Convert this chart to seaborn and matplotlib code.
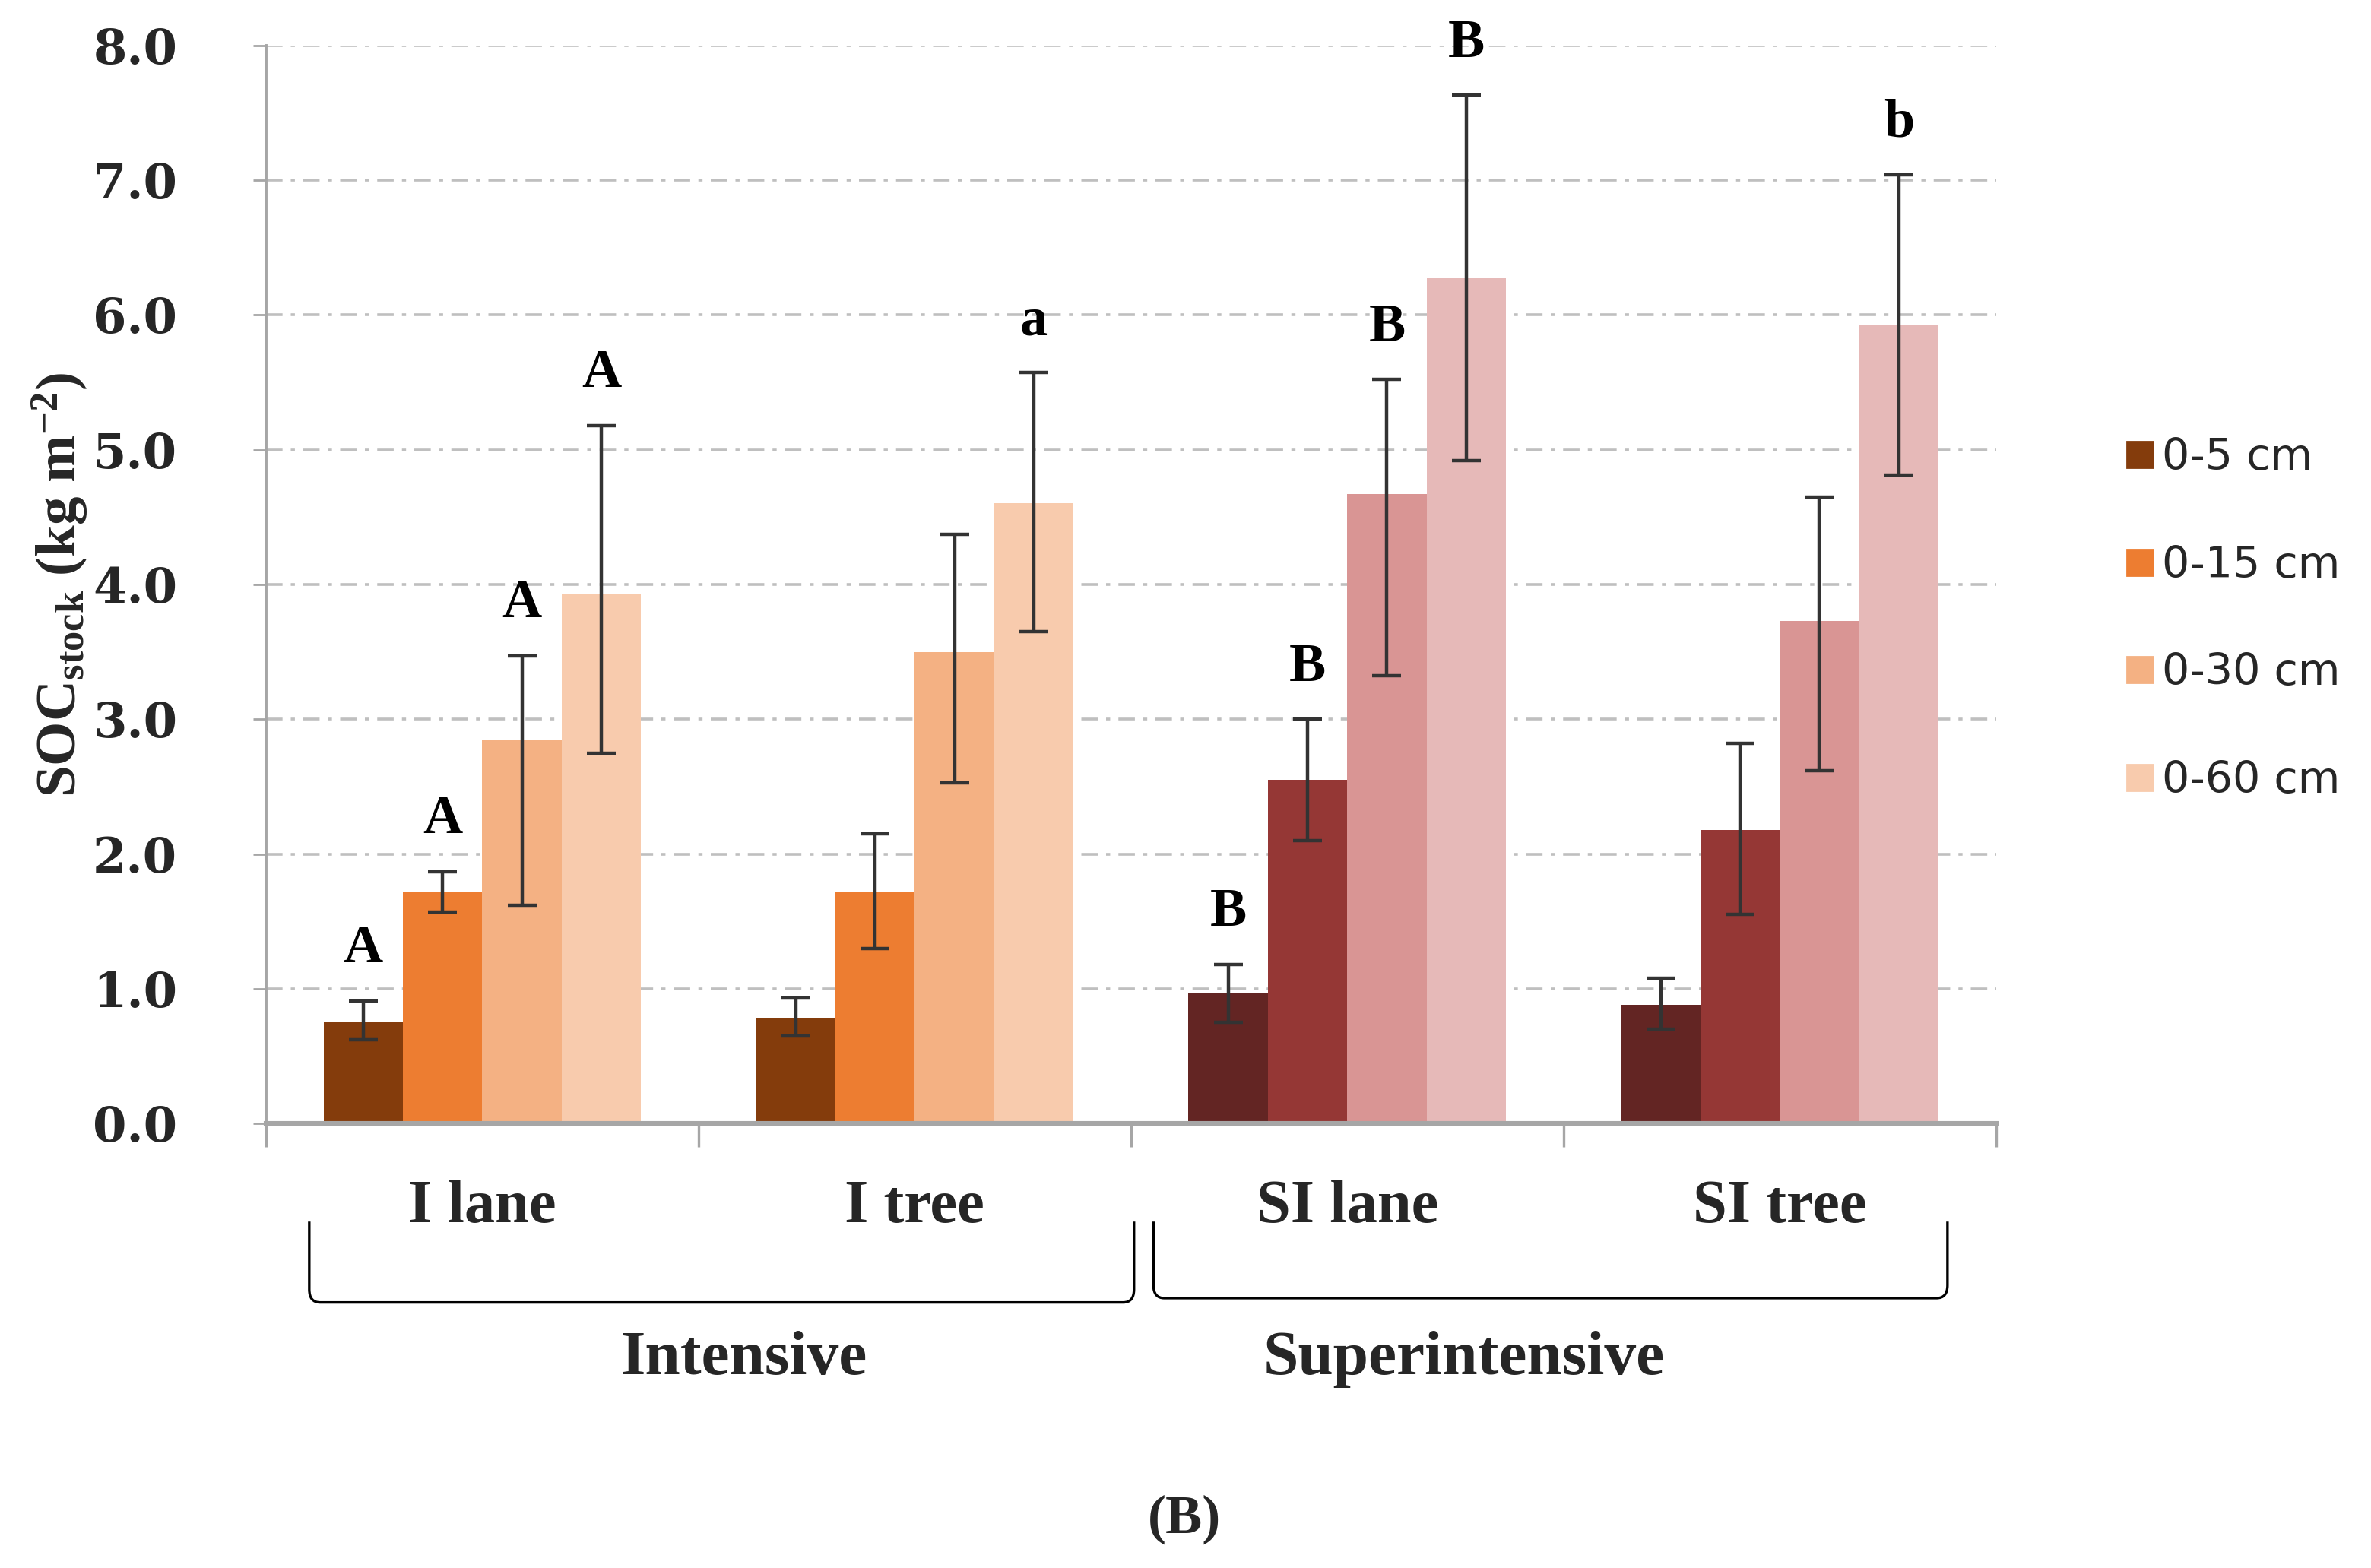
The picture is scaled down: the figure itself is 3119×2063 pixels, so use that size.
import numpy as np
import pandas as pd
import matplotlib
matplotlib.use("Agg")
import matplotlib.pyplot as plt
import matplotlib.transforms as mtransforms
from matplotlib.path import Path
from matplotlib.patches import PathPatch
from matplotlib.lines import Line2D
import seaborn as sns

# ---------------- data ----------------
categories = ["I lane", "I tree", "SI lane", "SI tree"]
management = ["Intensive", "Intensive", "Superintensive", "Superintensive"]
depths = ["0-5 cm", "0-15 cm", "0-30 cm", "0-60 cm"]

i_lane_mean = [0.75, 1.72, 2.85, 3.93]
i_lane_low = [0.62, 1.57, 1.62, 2.75]
i_lane_high = [0.91, 1.87, 3.47, 5.18]

i_tree_mean = [0.78, 1.72, 3.50, 4.60]
i_tree_low = [0.65, 1.30, 2.53, 3.65]
i_tree_high = [0.93, 2.15, 4.37, 5.57]

si_lane_mean = [0.97, 2.55, 4.67, 6.27]
si_lane_low = [0.75, 2.10, 3.32, 4.92]
si_lane_high = [1.18, 3.00, 5.52, 7.63]

si_tree_mean = [0.88, 2.18, 3.73, 5.93]
si_tree_low = [0.70, 1.55, 2.62, 4.81]
si_tree_high = [1.08, 2.82, 4.65, 7.04]

i_lane_letters = ["A", "A", "A", "A"]
i_tree_letters = ["", "", "", "a"]
si_lane_letters = ["B", "B", "B", "B"]
si_tree_letters = ["", "", "", "b"]

y_ticks = [0.0, 1.0, 2.0, 3.0, 4.0, 5.0, 6.0, 7.0, 8.0]

palette_intensive = ["#843C0C", "#ED7D31", "#F4B183", "#F8CBAD"]
palette_super = ["#632523", "#953735", "#D99594", "#E6B9B8"]

means = [i_lane_mean, i_tree_mean, si_lane_mean, si_tree_mean]
lows = [i_lane_low, i_tree_low, si_lane_low, si_tree_low]
highs = [i_lane_high, i_tree_high, si_lane_high, si_tree_high]
letters = [i_lane_letters, i_tree_letters, si_lane_letters, si_tree_letters]

rows = []
for ci, cat in enumerate(categories):
    for di, dep in enumerate(depths):
        rows.append(dict(cat=cat, mgmt=management[ci], depth=dep,
                         soc=means[ci][di], lo=lows[ci][di], hi=highs[ci][di],
                         letter=letters[ci][di], ci=ci, di=di))
df = pd.DataFrame(rows)

# ---------------- style ----------------
sns.set_style("white")
plt.rcParams["font.family"] = ["Liberation Serif", "DejaVu Serif"]
plt.rcParams["mathtext.fontset"] = "custom"
plt.rcParams["mathtext.rm"] = "Liberation Serif:bold"
plt.rcParams["mathtext.it"] = "Liberation Serif:bold"
plt.rcParams["mathtext.bf"] = "Liberation Serif:bold"

fig = plt.figure(figsize=(15.595, 10.315), dpi=200)
ax = fig.add_axes([0.1122, 0.2835, 0.7296, 0.6876])

sns.barplot(data=df[df.mgmt == "Intensive"], x="cat", y="soc", hue="depth",
            order=categories, hue_order=depths, palette=palette_intensive,
            width=0.734, errorbar=None, legend=False, saturation=1, ax=ax)
sns.barplot(data=df[df.mgmt == "Superintensive"], x="cat", y="soc", hue="depth",
            order=categories, hue_order=depths, palette=palette_super,
            width=0.734, errorbar=None, legend=False, saturation=1, ax=ax)

for p in ax.patches:
    p.set_edgecolor("none")
    p.set_linewidth(0)

bars = sorted([p for p in ax.patches if p.get_height() > 0], key=lambda p: p.get_x())
dfs = df.sort_values(["ci", "di"]).reset_index(drop=True)
xc = [p.get_x() + p.get_width() / 2 for p in bars]

ax.errorbar(xc, dfs["soc"], yerr=[dfs["soc"] - dfs["lo"], dfs["hi"] - dfs["soc"]],
            fmt="none", ecolor="#333333", elinewidth=1.6, capsize=7, capthick=1.6, zorder=5)

for x, (_, r) in zip(xc, dfs.iterrows()):
    if r["letter"]:
        ax.text(x, r["hi"] + 0.2, r["letter"], ha="center", va="bottom",
                fontsize=26, fontweight="bold", family="Liberation Serif", color="black",
                zorder=6, clip_on=False)

# axes
ax.set_ylim(0, 8)
ax.set_xlim(-0.5, 3.5)
ax.set_yticks(y_ticks)
ax.set_yticklabels([f"{v:.1f}" for v in y_ticks], fontsize=23, fontweight="bold",
                   family="DejaVu Serif", color="#262626")
ax.yaxis.grid(True, color="#BFBFBF", linestyle=(0, (6, 3, 1.5, 3)), linewidth=1.3)
ax.xaxis.grid(False)
ax.set_axisbelow(True)
ax.tick_params(axis="y", length=6, width=1.0, color="#A6A6A6", pad=36, left=True)

ax.set_xticks([0, 1, 2, 3])
ax.set_xticklabels([])
ax.set_xticks([-0.5, 0.5, 1.5, 2.5, 3.5], minor=True)
ax.tick_params(axis="x", which="major", length=0)
ax.tick_params(axis="x", which="minor", length=11, width=1.2, color="#A6A6A6", bottom=True)

for s in ["top", "right"]:
    ax.spines[s].set_visible(False)
ax.spines["left"].set_color("#A6A6A6")
ax.spines["left"].set_linewidth(1.4)
ax.spines["bottom"].set_color("#A6A6A6")
ax.spines["bottom"].set_linewidth(2.2)

ax.set_xlabel("")
ax.set_ylabel(r"SOC$_{\mathrm{stock}}$ (kg m$^{\mathrm{-2}}$)", fontsize=27,
              fontweight="bold", family="Liberation Serif", color="#262626")
ax.yaxis.set_label_coords(-0.102, 0.5)

trans = mtransforms.blended_transform_factory(ax.transData, ax.transAxes)
for i, cat in enumerate(categories):
    ax.text(i, -0.078, cat, transform=trans, ha="center", va="center",
            fontsize=29, fontweight="bold", family="Liberation Serif", clip_on=False)

# brackets
def bracket(x0, x1, top, bot, r=0.025, rv=0.012):
    verts = [(x0, top), (x0, bot + rv), (x0, bot), (x0 + r, bot),
             (x1 - r, bot), (x1, bot), (x1, bot + rv), (x1, top)]
    codes = [Path.MOVETO, Path.LINETO, Path.CURVE3, Path.CURVE3,
             Path.LINETO, Path.CURVE3, Path.CURVE3, Path.LINETO]
    pp = PathPatch(Path(verts, codes), transform=trans, fill=False,
                   edgecolor="black", linewidth=1.2, clip_on=False)
    ax.add_patch(pp)

bracket(-0.40, 1.507, -0.091, -0.166)
bracket(1.552, 3.388, -0.091, -0.162)

group_names = ["Intensive", "Superintensive"]
group_x = [0.605, 2.27]
for gx, gn in zip(group_x, group_names):
    ax.text(gx, -0.219, gn, transform=trans, ha="center", va="center",
            fontsize=30, fontweight="bold", family="Liberation Serif", clip_on=False)

# legend
handles = [Line2D([0], [0], marker="s", linestyle="none", markersize=12,
                  markerfacecolor=c, markeredgecolor=c) for c in palette_intensive]
leg = fig.legend(handles, depths, loc="center left", bbox_to_anchor=(0.878, 0.605),
                 frameon=False, prop={"family": "DejaVu Sans", "size": 20.5},
                 labelspacing=1.52, handletextpad=0.05, handlelength=0.9)

fig.text(0.4994, 0.031, "(B)", ha="center", va="center", fontsize=26,
         fontweight="bold", family="Liberation Serif")

fig.savefig("out.png", dpi=200, facecolor="white")
